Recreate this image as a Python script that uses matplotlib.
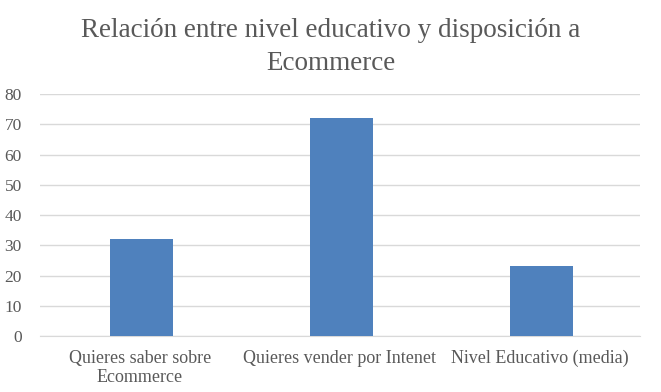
import matplotlib.pyplot as plt

# datos del gráfico
categorias = ['Quieres saber sobre\nEcommerce', 'Quieres vender por Intenet', 'Nivel Educativo (media)']
valores = [32, 72, 23]
yticks = [0, 10, 20, 30, 40, 50, 60, 70, 80]

plt.rcParams['font.family'] = ['Liberation Serif', 'DejaVu Serif']
gris = '#595959'

fig = plt.figure(figsize=(6.61, 3.92), dpi=100)
ax = fig.add_axes([0.0605, 0.1429, 0.9075, 0.6171])

x = range(len(categorias))
ax.bar([i + 0.01 for i in x], valores, width=0.315, color='#4f81bd', zorder=3)

ax.set_xlim(-0.5, 2.5)
ax.set_ylim(0, 80)
ax.set_yticks(yticks)
ax.set_xticks(list(x))
ax.set_xticklabels(categorias, fontsize=13, color=gris, linespacing=1.15)
ax.tick_params(axis='y', labelsize=12.5, labelcolor=gris, length=0, pad=13)
ax.tick_params(axis='x', length=0, pad=10)
ax.grid(axis='y', color='#d9d9d9', linewidth=1, zorder=0)
for s in ['top', 'right', 'left']:
    ax.spines[s].set_visible(False)
ax.spines['bottom'].set_color('#d9d9d9')

fig.text(0.5, 0.955, 'Relación entre nivel educativo y disposición a\nEcommerce',
         ha='center', va='top', fontsize=19.5, color=gris, linespacing=1.45)

fig.savefig('out.png', dpi=100)
